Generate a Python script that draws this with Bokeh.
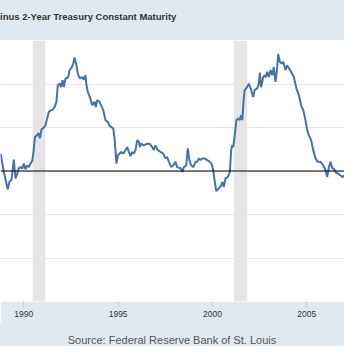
from bokeh.plotting import figure
from bokeh.models import Range1d, FixedTicker, Grid, Span, BoxAnnotation, Div
from bokeh.layouts import column
from bokeh.embed import file_html
from bokeh.resources import INLINE

# 10-Year minus 2-Year Treasury spread (percent)
years = [1988.77, 1988.94, 1989.15, 1989.24, 1989.35, 1989.47, 1989.56, 1989.65, 1989.73, 1989.83,
         1989.92, 1990.00, 1990.09, 1990.18, 1990.27, 1990.36, 1990.45, 1990.51, 1990.59, 1990.70,
         1990.78, 1990.85, 1990.94, 1991.06, 1991.15, 1991.24, 1991.33, 1991.42, 1991.51, 1991.63,
         1991.73, 1991.80, 1991.91, 1991.98, 1992.05, 1992.12, 1992.21, 1992.30, 1992.38, 1992.42,
         1992.51, 1992.62, 1992.69, 1992.79, 1992.86, 1992.97, 1993.10, 1993.18, 1993.27, 1993.32,
         1993.39, 1993.50, 1993.63, 1993.75, 1993.82, 1993.89, 1994.01, 1994.10, 1994.21, 1994.33,
         1994.45, 1994.56, 1994.74, 1994.82, 1994.91, 1994.98, 1995.09, 1995.16, 1995.27, 1995.39,
         1995.48, 1995.57, 1995.66, 1995.75, 1995.83, 1995.92, 1996.01, 1996.10, 1996.15, 1996.22,
         1996.36, 1996.54, 1996.68, 1996.81, 1996.89, 1996.98, 1997.10, 1997.25, 1997.39, 1997.51,
         1997.60, 1997.69, 1997.81, 1997.92, 1998.04, 1998.13, 1998.31, 1998.40, 1998.48, 1998.61,
         1998.69, 1998.78, 1998.87, 1998.98, 1999.10, 1999.19, 1999.28, 1999.37, 1999.46, 1999.58,
         1999.72, 1999.86, 1999.95, 2000.04, 2000.11, 2000.20, 2000.34, 2000.46, 2000.53, 2000.60,
         2000.69, 2000.81, 2000.92, 2000.99, 2001.05, 2001.10, 2001.17, 2001.27, 2001.36, 2001.45,
         2001.52, 2001.58, 2001.66, 2001.71, 2001.84, 2001.93, 2002.02, 2002.16, 2002.23, 2002.37,
         2002.46, 2002.51, 2002.58, 2002.69, 2002.76, 2002.83, 2002.90, 2002.99, 2003.08, 2003.17,
         2003.25, 2003.34, 2003.43, 2003.48, 2003.57, 2003.66, 2003.75, 2003.87, 2003.96, 2004.05,
         2004.17, 2004.31, 2004.45, 2004.58, 2004.70, 2004.81, 2004.93, 2005.02, 2005.11, 2005.23,
         2005.34, 2005.46, 2005.58, 2005.73, 2005.87, 2005.99, 2006.08, 2006.17, 2006.26, 2006.35,
         2006.43, 2006.52, 2006.64, 2006.79, 2006.88, 2007.00, 2007.10, 2007.17, 2007.28, 2007.35,
         2007.46, 2007.53, 2007.63, 2007.70, 2007.78, 2007.85]
spread = [0.40, -0.02, -0.42, -0.25, -0.20, 0.26, -0.17, -0.06, 0.06, 0.09,
          0.06, 0.17, 0.04, 0.13, 0.09, 0.17, 0.24, 0.43, 0.78, 0.82,
          0.87, 0.75, 0.96, 1.00, 1.05, 1.21, 1.36, 1.39, 1.40, 1.47,
          1.59, 1.97, 2.01, 1.93, 2.09, 1.93, 2.13, 2.13, 2.20, 2.32,
          2.36, 2.47, 2.61, 2.43, 2.24, 2.13, 2.16, 2.10, 2.20, 1.97,
          1.82, 1.70, 1.51, 1.59, 1.47, 1.63, 1.59, 1.51, 1.40, 1.17,
          1.13, 1.03, 0.98, 0.71, 0.17, 0.36, 0.40, 0.44, 0.40, 0.48,
          0.55, 0.44, 0.34, 0.44, 0.40, 0.48, 0.71, 0.67, 0.55, 0.63,
          0.59, 0.63, 0.62, 0.55, 0.48, 0.59, 0.48, 0.44, 0.40, 0.29,
          0.32, 0.21, 0.09, 0.13, 0.21, 0.09, 0.06, -0.02, 0.09, 0.13,
          0.52, 0.25, 0.13, 0.09, 0.21, 0.21, 0.29, 0.25, 0.29, 0.29,
          0.25, 0.21, 0.17, 0.02, -0.21, -0.46, -0.40, -0.33, -0.25, -0.37,
          -0.17, -0.14, -0.02, 0.48, 0.59, 0.55, 0.78, 1.17, 1.21, 1.17,
          1.28, 1.17, 1.67, 1.86, 1.93, 2.01, 1.90, 1.70, 1.86, 1.90,
          2.01, 2.26, 1.93, 2.16, 2.20, 2.16, 2.28, 2.16, 2.32, 2.20,
          2.39, 2.05, 2.36, 2.69, 2.51, 2.47, 2.51, 2.32, 2.43, 2.36,
          2.28, 2.16, 1.90, 1.74, 1.51, 1.40, 1.17, 0.94, 0.82, 0.71,
          0.48, 0.29, 0.21, 0.21, 0.13, 0.02, -0.14, 0.09, 0.21, 0.06,
          0.06, -0.02, -0.06, -0.10, -0.14, -0.10, -0.06, 0.06, -0.02, 0.06,
          0.17, 0.29, 0.44, 0.63, 0.55, 0.94]

rec_start = [1990.47, 2001.14]
rec_end = [1991.14, 2001.84]
x_ticks = [1990, 1995, 2000, 2005]
y_grid = [-2, -1, 1, 2, 3]

title_text = "inus 2-Year Treasury Constant Maturity"
source_text = "Source: Federal Reserve Bank of St. Louis"

BAND = "#e1e9f0"
W = 344

top = Div(text=('<div style="padding-top:11px;font-family:\'Liberation Sans\';font-size:9.5px;'
                'font-weight:bold;line-height:12px;color:#333333;white-space:nowrap;">'
                + title_text + '</div>'),
          width=W, height=40, margin=0, styles={"background-color": BAND})

p = figure(width=W, height=283, output_backend="svg", toolbar_location=None,
           x_range=Range1d(1988.765, 2006.998), y_range=Range1d(-3, 3),
           y_axis_location=None, margin=0,
           min_border_left=0, min_border_right=0, min_border_top=0, min_border_bottom=22)
p.title.visible = False
p.border_fill_color = BAND
p.background_fill_color = "white"
p.outline_line_color = None
p.xgrid.grid_line_color = None

p.add_layout(Grid(dimension=1, ticker=FixedTicker(ticks=y_grid),
                  grid_line_color="#e6e6e6", grid_line_width=1))

for s, e in zip(rec_start, rec_end):
    p.add_layout(BoxAnnotation(left=s, right=e, fill_color="#e5e5e5", fill_alpha=1,
                               line_color=None, level="underlay"))

p.line(years, spread, line_color="#4572a7", line_width=2)
p.add_layout(Span(location=0, dimension="width", line_color="black", line_width=1.2))

ax = p.xaxis[0]
ax.ticker = FixedTicker(ticks=x_ticks)
ax.axis_line_color = None
ax.major_tick_line_color = "#c0d0e0"
ax.major_tick_out = 6
ax.major_tick_in = 0
ax.minor_tick_line_color = None
ax.major_label_text_font = "Liberation Sans"
ax.major_label_text_font_size = "8.5px"
ax.major_label_text_color = "#333333"
ax.major_label_standoff = 3

bottom = Div(text=('<div style="padding-top:11px;font-family:\'Liberation Sans\';font-size:11px;'
                   'line-height:12px;color:#555555;text-align:center;width:' + str(W) + 'px;'
                   'white-space:nowrap;">' + source_text + '</div>'),
             width=W, height=23, margin=0, styles={"background-color": BAND})

layout = column(top, p, bottom, spacing=0, margin=0)

open("out.html", "w").write(file_html(layout, INLINE))
